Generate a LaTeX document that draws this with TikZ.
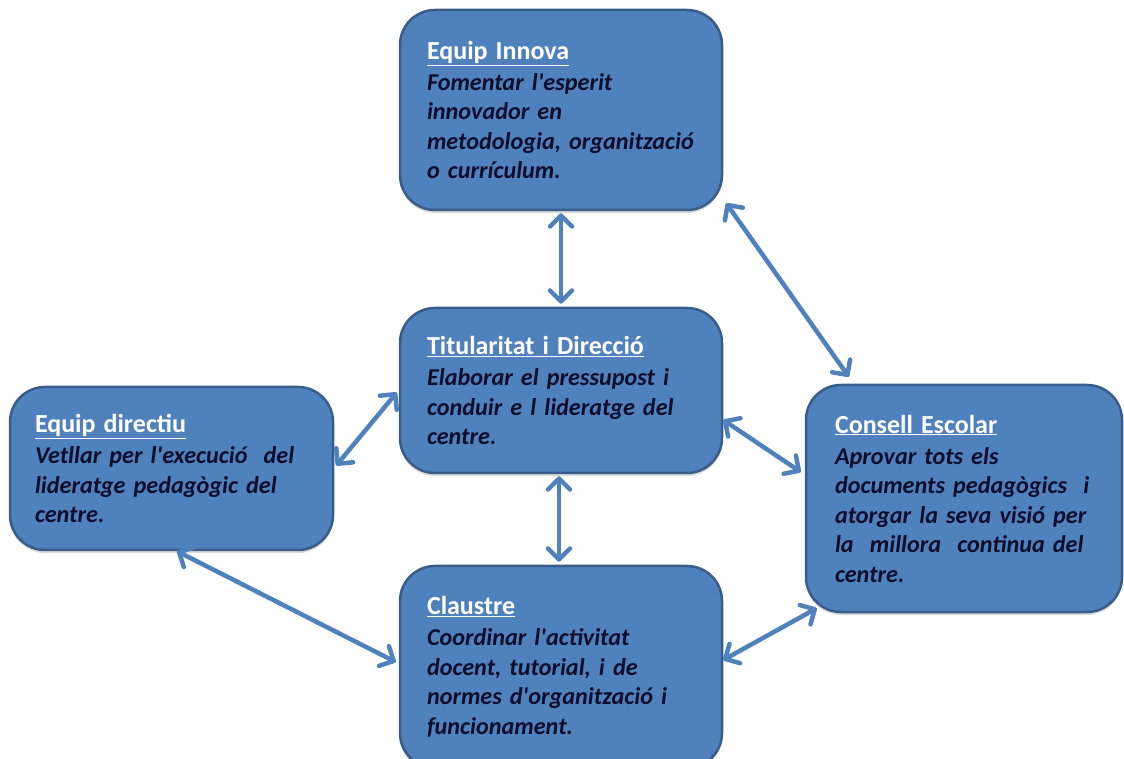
\documentclass[tikz,border=0pt]{standalone}
\usepackage{fontspec}
\newfontfamily\boxfont{Carlito}[Ligatures=TeXOff]
\usetikzlibrary{arrows.meta,shadows}
\definecolor{boxblue}{HTML}{4F81BD}
\definecolor{boxedge}{HTML}{385D8A}
\definecolor{bodyink}{HTML}{0E0E2C}
\newcommand{\boxhead}[1]{{\upshape\fontsize{26pt}{29.5pt}\selectfont\color{white}\underline{#1}}\\[1.5pt]}

\begin{document}
\begin{tikzpicture}[x=1pt,y=1pt,
  box/.style={draw=boxedge, line width=2.5pt, fill=boxblue, rounded corners=35pt,
    inner xsep=27pt, inner ysep=0pt, text width=268pt, minimum height=#1,
    align=left, text=bodyink, font=\boxfont\fontsize{24.2pt}{29.5pt}\selectfont\bfseries\itshape,
    drop shadow={shadow xshift=0pt, shadow yshift=-3pt, opacity=.3}},
  link/.style={draw=boxblue, line width=4.5pt,
    {Straight Barb[length=11pt,width=22pt,round]}-{Straight Barb[length=11pt,width=22pt,round]}}]
%picture
\path[use as bounding box, clip] (0,0) rectangle (1124,758);
\node[box=200pt] (innova) at (561,648) {\boxhead{Equip Innova}Fomentar l'esperit\\innovador en\\metodologia, organització\\o currículum.};
\node[box=165pt] (titular) at (561,367.5) {\boxhead{Titularitat i Direcció}Elaborar el pressupost i\\conduir e l lideratge del\\centre.};
\node[box=163pt, inner xsep=25pt, text width=273pt] (directiu) at (171.5,289.5) {\boxhead{Equip directiu}Vetllar per l'execució~ del\\lideratge pedagògic del\\centre.};
\node[box=227pt, inner xsep=29pt, text width=258pt] (consell) at (964,259.5) {\boxhead{Consell Escolar}Aprovar tots els\\documents pedagògics~ i\\atorgar la seva visió per\\la~ millora~ continua del\\centre.};
\node[box=202pt] (claustre) at (561,91) {\boxhead{Claustre}Coordinar l'activitat\\docent, tutorial, i de\\normes d'organització i\\funcionament.};
% connectors
\draw[link] ([yshift=-2pt]innova.south) -- ([yshift=3pt]titular.north);
\draw[link] ([xshift=3pt,yshift=8pt]innova.south east) -- ([xshift=44pt,yshift=7pt]consell.north west);
\draw[link] ([xshift=-2pt,yshift=-2pt]titular.west) -- ([xshift=2pt,yshift=3pt]directiu.east);
\draw[link] ([yshift=-29.5pt]titular.east) -- ([xshift=-4pt,yshift=26.5pt]consell.west);
\draw[link] ([xshift=-2pt,yshift=-2pt]titular.south) -- ([xshift=-2pt,yshift=3pt]claustre.north);
\draw[link] ([xshift=5.5pt]directiu.south) -- ([xshift=-3pt,yshift=5pt]claustre.west);
\draw[link] ([yshift=7pt]claustre.east) -- ([xshift=12pt,yshift=5pt]consell.south west);
\end{tikzpicture}
\end{document}
